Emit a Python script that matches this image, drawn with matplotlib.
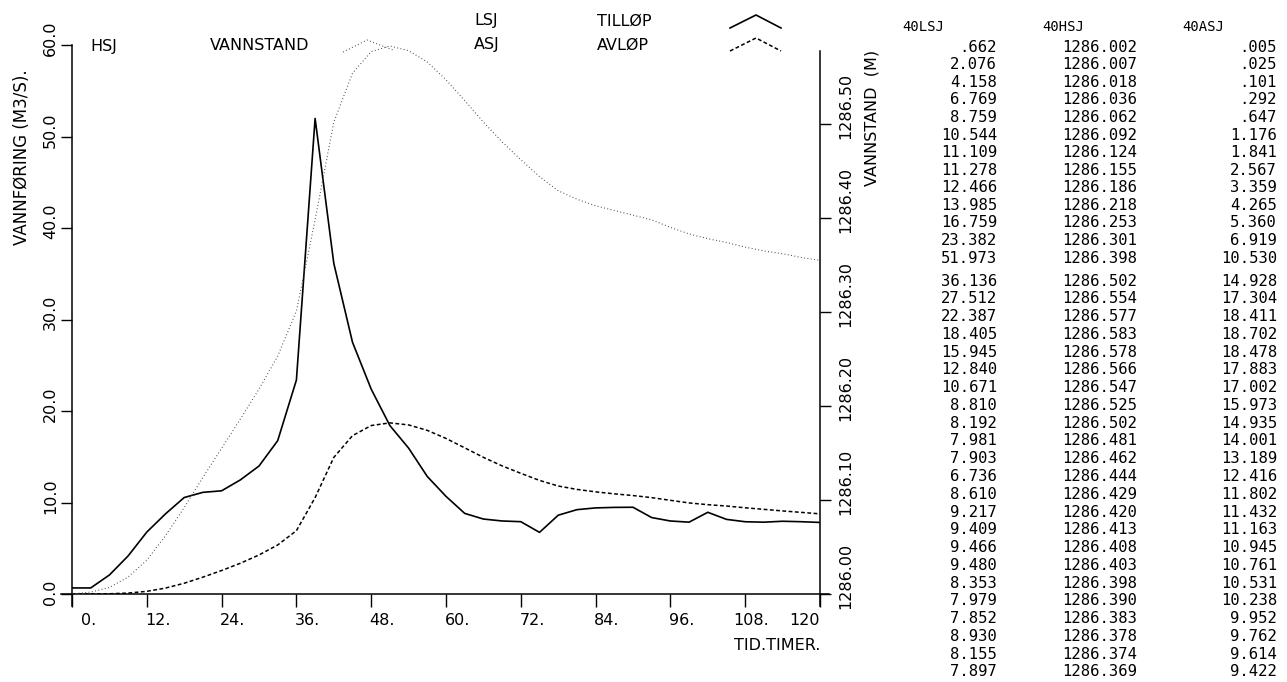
import numpy as np
import matplotlib.pyplot as plt
import matplotlib.transforms as mtransforms
from matplotlib.lines import Line2D

# time axis, 3-hour steps
hours = list(range(0, 121, 3))

# inflow (LSJ), m3/s; t=0 and t=111..120, the rest from the table
lsj = [0.662, 0.662, 2.076, 4.158, 6.769, 8.759, 10.544, 11.109, 11.278, 12.466,
       13.985, 16.759, 23.382, 51.973, 36.136, 27.512, 22.387, 18.405, 15.945,
       12.840, 10.671, 8.810, 8.192, 7.981, 7.903, 6.736, 8.610, 9.217, 9.409,
       9.466, 9.480, 8.353, 7.979, 7.852, 8.930, 8.155, 7.897,
       7.85, 7.95, 7.90, 7.82]
# water level (HSJ), m
hsj = [1286.000, 1286.002, 1286.007, 1286.018, 1286.036, 1286.062, 1286.092,
       1286.124, 1286.155, 1286.186, 1286.218, 1286.253, 1286.301, 1286.398,
       1286.502, 1286.554, 1286.577, 1286.583, 1286.578, 1286.566, 1286.547,
       1286.525, 1286.502, 1286.481, 1286.462, 1286.444, 1286.429, 1286.420,
       1286.413, 1286.408, 1286.403, 1286.398, 1286.390, 1286.383, 1286.378,
       1286.374, 1286.369,
       1286.365, 1286.362, 1286.358, 1286.355]
# outflow (ASJ), m3/s
asj = [0.0, 0.005, 0.025, 0.101, 0.292, 0.647, 1.176, 1.841, 2.567, 3.359, 4.265,
       5.360, 6.919, 10.530, 14.928, 17.304, 18.411, 18.702, 18.478, 17.883,
       17.002, 15.973, 14.935, 14.001, 13.189, 12.416, 11.802, 11.432, 11.163,
       10.945, 10.761, 10.531, 10.238, 9.952, 9.762, 9.614, 9.422,
       9.25, 9.08, 8.92, 8.76]

# printed table (only the rows that are on the sheet)
tab_lsj = [".662", "2.076", "4.158", "6.769", "8.759", "10.544", "11.109", "11.278",
           "12.466", "13.985", "16.759", "23.382", "51.973", "36.136", "27.512",
           "22.387", "18.405", "15.945", "12.840", "10.671", "8.810", "8.192",
           "7.981", "7.903", "6.736", "8.610", "9.217", "9.409", "9.466", "9.480",
           "8.353", "7.979", "7.852", "8.930", "8.155", "7.897"]
tab_hsj = ["1286.002", "1286.007", "1286.018", "1286.036", "1286.062", "1286.092",
           "1286.124", "1286.155", "1286.186", "1286.218", "1286.253", "1286.301",
           "1286.398", "1286.502", "1286.554", "1286.577", "1286.583", "1286.578",
           "1286.566", "1286.547", "1286.525", "1286.502", "1286.481", "1286.462",
           "1286.444", "1286.429", "1286.420", "1286.413", "1286.408", "1286.403",
           "1286.398", "1286.390", "1286.383", "1286.378", "1286.374", "1286.369"]
tab_asj = [".005", ".025", ".101", ".292", ".647", "1.176", "1.841", "2.567",
           "3.359", "4.265", "5.360", "6.919", "10.530", "14.928", "17.304",
           "18.411", "18.702", "18.478", "17.883", "17.002", "15.973", "14.935",
           "14.001", "13.189", "12.416", "11.802", "11.432", "11.163", "10.945",
           "10.761", "10.531", "10.238", "9.952", "9.762", "9.614", "9.422"]

xticks = [0, 12, 24, 36, 48, 60, 72, 84, 96, 108, 120]
xlabels = ["0.", "12.", "24.", "36.", "48.", "60.", "72.", "84.", "96.", "108.", "120"]
yticks = [0, 10, 20, 30, 40, 50, 60]
ylabels = ["0.0", "10.0", "20.0", "30.0", "40.0", "50.0", "60.0"]
y2ticks = [1286.0, 1286.1, 1286.2, 1286.3, 1286.4, 1286.5]
y2labels = ["1286.00", "1286.10", "1286.20", "1286.30", "1286.40", "1286.50"]

plt.rcParams["font.family"] = ["DejaVu Sans"]
W, H = 1287, 682
fig = plt.figure(figsize=(W / 100, H / 100), dpi=100)


def fx(px):
    return px / W


def fy(py):
    return 1 - py / H


def shift(dx, dy):
    # pixel offset for tick labels (dpi is 100)
    return mtransforms.ScaledTranslation(dx / 100, -dy / 100, fig.dpi_scale_trans)


ax = fig.add_axes([fx(72), fy(594), fx(820) - fx(72), fy(45) - fy(594)])
ax2 = ax.twinx()

ax.plot(hours, lsj, color="black", lw=1.2)
ax.plot(hours, asj, color="black", lw=1.1, linestyle=(0, (2.5, 1.6)))
ax2.plot(hours, hsj, color="#444444", lw=0.8, linestyle=(0, (0.8, 2.2)))

ax.set_xlim(0, 120)
ax.set_ylim(0, 60)
ax2.set_ylim(1286.0, 1286.0 + 0.1 * 549 / 94)

for s in ["top", "right"]:
    ax.spines[s].set_visible(False)
for s in ["top", "left", "bottom"]:
    ax2.spines[s].set_visible(False)
ax.spines["left"].set_bounds(-1.3, 60)
ax.spines["bottom"].set_bounds(-1.8, 121.5)
ax2.spines["right"].set_bounds(1285.987, 1286.578)
for sp in [ax.spines["left"], ax.spines["bottom"], ax2.spines["right"]]:
    sp.set_linewidth(1.1)

ax.set_xticks(xticks, xlabels, fontsize=11.5, ha="right")
ax.set_yticks(yticks, ylabels, fontsize=11.5, rotation=90, va="bottom")
ax2.set_yticks(y2ticks, y2labels, fontsize=11.5, rotation=90, va="bottom")
ax.tick_params(axis="x", direction="out", length=9, width=1.0, pad=5)
ax.tick_params(axis="y", direction="out", length=8, width=1.0, pad=2)
ax2.tick_params(axis="y", direction="out", length=8, width=1.0, pad=5)
# plotter labels sit right-justified a little past the tick; the last one is squeezed
xlabs = ax.get_xticklabels()
for lab in xlabs[:-1]:
    lab.set_transform(lab.get_transform() + shift(24, 0))
for lab in ax.get_yticklabels():
    lab.set_transform(lab.get_transform() + shift(0, 11))
for lab in ax2.get_yticklabels():
    lab.set_transform(lab.get_transform() + shift(0, 15))

fig.text(fx(22), fy(157), "VANNFØRING (M3/S).", rotation=90, fontsize=12,
         ha="center", va="center")
fig.text(fx(872), fy(50), "VANNSTAND  (M)", rotation=90, fontsize=11.5,
         ha="center", va="top")
fig.text(fx(820), fy(646), "TID.TIMER.", fontsize=11.5, ha="right", va="center")

# legend in plotter style: label pairs plus a little caret of each line style
fig.text(fx(90), fy(46), "HSJ", fontsize=11.5, va="center")
fig.text(fx(210), fy(46), "VANNSTAND", fontsize=11.5, va="center")
fig.text(fx(474), fy(21), "LSJ", fontsize=11.5, va="center")
fig.text(fx(597), fy(21), "TILLØP", fontsize=11.5, va="center")
fig.text(fx(474), fy(45), "ASJ", fontsize=11.5, va="center")
fig.text(fx(597), fy(45), "AVLØP", fontsize=11.5, va="center")
fig.add_artist(Line2D([fx(343), fx(367), fx(393)], [fy(52), fy(40), fy(50)],
                      color="#444444", lw=0.8, linestyle=(0, (0.8, 2.2))))
fig.add_artist(Line2D([fx(730), fx(756), fx(781)], [fy(28), fy(15), fy(28)],
                      color="black", lw=1.2))
fig.add_artist(Line2D([fx(730), fx(756), fx(781)], [fy(51), fy(38), fy(51)],
                      color="black", lw=1.1, linestyle=(0, (2.5, 1.6))))

# the value table printed beside the plot
tf = dict(family="DejaVu Sans Mono", fontsize=11.2, va="center")
fig.text(fx(902), fy(27), "40LSJ", ha="left", **dict(tf, fontsize=10))
fig.text(fx(1042), fy(27), "40HSJ", ha="left", **dict(tf, fontsize=10))
fig.text(fx(1182), fy(27), "40ASJ", ha="left", **dict(tf, fontsize=10))
for i in range(len(tab_lsj)):
    yy = 47 + 17.6 * i if i <= 12 else 281 + 17.77 * (i - 13)
    fig.text(fx(997), fy(yy), tab_lsj[i], ha="right", **tf)
    fig.text(fx(1137), fy(yy), tab_hsj[i], ha="right", **tf)
    fig.text(fx(1277), fy(yy), tab_asj[i], ha="right", **tf)

fig.savefig("out.png", dpi=100)
